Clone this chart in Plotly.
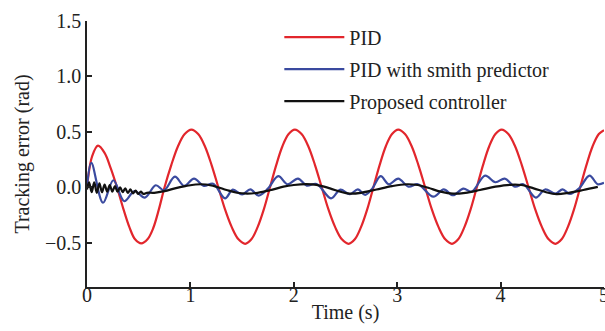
import plotly.graph_objects as go

# ---- data ----
pid_t = [0.0, 0.05, 0.106, 0.17, 0.23, 0.29, 0.35, 0.41, 0.465, 0.525, 0.585, 0.64, 0.695, 0.75, 0.815, 0.88, 0.945,
         1.01, 1.075, 1.14, 1.205, 1.27, 1.335, 1.40, 1.465, 1.53, 1.59, 1.65, 1.71, 1.77, 1.83, 1.89, 1.95,
         2.01, 2.075, 2.14, 2.205, 2.27, 2.335, 2.40, 2.465, 2.53, 2.59, 2.65, 2.71, 2.77, 2.83, 2.89, 2.95,
         3.01, 3.075, 3.14, 3.205, 3.27, 3.335, 3.40, 3.465, 3.53, 3.59, 3.65, 3.71, 3.77, 3.83, 3.89, 3.95,
         4.01, 4.075, 4.14, 4.205, 4.27, 4.335, 4.40, 4.465, 4.53, 4.59, 4.65, 4.71, 4.77, 4.83, 4.89, 4.95, 5.0]
pid_e = [0.0, 0.28, 0.375, 0.31, 0.17, 0.0, -0.19, -0.36, -0.47, -0.507, -0.47, -0.37, -0.2, 0.0, 0.2, 0.37, 0.48,
         0.52, 0.48, 0.37, 0.2, 0.0, -0.2, -0.36, -0.47, -0.51, -0.47, -0.36, -0.2, 0.0, 0.2, 0.37, 0.48,
         0.52, 0.48, 0.37, 0.2, 0.0, -0.2, -0.36, -0.47, -0.51, -0.47, -0.36, -0.2, 0.0, 0.2, 0.37, 0.48,
         0.52, 0.48, 0.37, 0.2, 0.0, -0.2, -0.36, -0.47, -0.51, -0.47, -0.36, -0.2, 0.0, 0.2, 0.37, 0.48,
         0.52, 0.48, 0.37, 0.2, 0.0, -0.2, -0.36, -0.47, -0.51, -0.47, -0.36, -0.2, 0.0, 0.2, 0.37, 0.48, 0.515]

smith_t = [0.0, 0.042, 0.155, 0.255, 0.36, 0.46, 0.56, 0.665, 0.745,
           0.85, 0.94, 1.035, 1.13, 1.22, 1.335, 1.41, 1.50, 1.58, 1.66, 1.75,
           1.85, 1.94, 2.04, 2.125, 2.22, 2.36, 2.45, 2.54, 2.62, 2.69, 2.76,
           2.84, 2.92, 3.01, 3.11, 3.20, 3.35, 3.45, 3.54, 3.64, 3.72,
           3.85, 3.95, 4.04, 4.14, 4.22, 4.34, 4.43, 4.53, 4.60, 4.67, 4.76,
           4.86, 4.94, 5.0]
smith_e = [0.0, 0.22, -0.14, 0.063, -0.126, -0.035, -0.093, 0.018, -0.027,
           0.095, 0.012, 0.078, 0.012, 0.032, -0.10, -0.022, -0.065, -0.02, -0.075, -0.012,
           0.10, 0.027, 0.078, 0.015, 0.03, -0.10, -0.022, -0.063, -0.02, -0.07, -0.01,
           0.10, 0.027, 0.078, 0.005, 0.027, -0.085, -0.02, -0.072, -0.012, -0.04,
           0.105, 0.045, 0.078, 0.005, 0.027, -0.093, -0.02, -0.057, -0.02, -0.06, -0.01,
           0.105, 0.027, 0.04]

prop_t = [0.0, 0.02, 0.045, 0.07, 0.095, 0.12, 0.145, 0.17, 0.195, 0.22,
          0.245, 0.27, 0.295, 0.32, 0.345, 0.37, 0.395, 0.42, 0.445, 0.47,
          0.495, 0.52, 0.545, 0.58,
          0.65, 0.75, 0.85, 0.95, 1.05, 1.15, 1.25, 1.35, 1.45, 1.55, 1.65, 1.77,
          1.90, 2.0, 2.12, 2.22, 2.35, 2.45, 2.54, 2.65, 2.80, 2.95, 3.09, 3.20,
          3.30, 3.42, 3.54, 3.66, 3.80, 3.95, 4.09, 4.20, 4.32, 4.44, 4.54, 4.66,
          4.80, 4.94]
prop_e = [-0.02, 0.045, -0.045, 0.045, -0.05, 0.035, -0.045, 0.025, -0.04, 0.02,
          -0.04, 0.01, -0.04, 0.0, -0.045, -0.01, -0.05, -0.02, -0.055, -0.03,
          -0.06, -0.04, -0.06, -0.05,
          -0.05, -0.035, -0.01, 0.01, 0.025, 0.025, 0.005, -0.025, -0.05, -0.057, -0.05, -0.027,
          0.005, 0.02, 0.028, 0.022, -0.01, -0.04, -0.057, -0.05, -0.02, 0.01, 0.027, 0.02,
          -0.005, -0.04, -0.058, -0.05, -0.025, 0.005, 0.022, 0.02, -0.01, -0.045, -0.062, -0.05,
          -0.025, 0.003]

series_names = ["PID", "PID with smith predictor", "Proposed controller"]
series_colors = ["#e2262c", "#3a4a9f", "#111111"]

x_ticks = [0, 1, 2, 3, 4, 5]
y_ticks = [-0.5, 0.0, 0.5, 1.0, 1.5]

FONT = "Liberation Serif"

fig = go.Figure()
for name, t, e, c, g in zip(series_names, [pid_t, smith_t, prop_t],
                            [pid_e, smith_e, prop_e], series_colors,
                            ["a", "b", "c"]):
    fig.add_trace(go.Scatter(x=t, y=e, mode="lines", name=name, legendgroup=g,
                             line=dict(color=c, width=2.2, shape="spline", smoothing=1.0)))

fig.update_layout(
    width=605, height=331,
    margin=dict(l=87, r=1, t=21, b=44),
    paper_bgcolor="white", plot_bgcolor="white",
    font=dict(family=FONT, size=20, color="#222"),
    showlegend=True,
    legend=dict(x=0.372, y=1.013, xanchor="left", yanchor="top",
                bgcolor="rgba(0,0,0,0)", borderwidth=0,
                tracegroupgap=3, itemwidth=60,
                font=dict(family=FONT, size=20, color="#222")),
    xaxis=dict(range=[0, 5], tickvals=x_ticks, showline=True, linecolor="#222",
               linewidth=1.5, ticks="inside", ticklen=5, tickwidth=1.5,
               tickcolor="#222", showgrid=False, zeroline=False,
               ticklabeloverflow="allow", automargin=False,
               ticklabelstandoff=-11,
               title=dict(text="Time (s)", standoff=0, font=dict(size=20))),
    yaxis=dict(range=[-0.9, 1.5], tickvals=y_ticks, tickformat=".1f",
               showline=True, linecolor="#222", linewidth=1.5, ticks="inside",
               ticklen=5, tickwidth=1.5, tickcolor="#222", showgrid=False,
               zeroline=False, automargin=False,
               title=dict(text="Tracking error (rad)", standoff=10, font=dict(size=20))),
)

fig.write_html("out.html")
